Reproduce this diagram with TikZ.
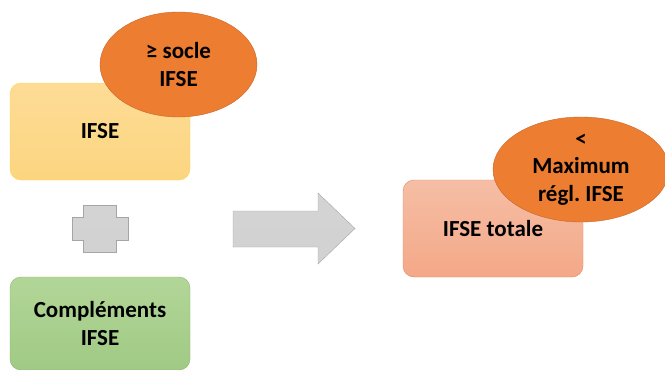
\documentclass[tikz,border=0pt]{standalone}
\usepackage{fontspec}
\setmainfont{Carlito}
\usetikzlibrary{shapes.geometric}
\definecolor{bulle}{RGB}{237,125,49}
\definecolor{bullebord}{RGB}{200,100,40}
\definecolor{grisfond}{RGB}{200,200,200}
\definecolor{grisbord}{RGB}{165,165,165}
\begin{document}
\begin{tikzpicture}[
                  x=1pt, y=-1pt,
                  font=\bfseries\fontsize{23}{27.5}\selectfont,
                  bloc/.style={rounded corners=11pt, minimum width=180pt, minimum height=97pt, align=center, inner sep=0pt},
                  bulle/.style={ellipse, draw=bullebord, fill=bulle, align=center, inner sep=0pt},
                  gris/.style={draw=grisbord, top color=grisfond!80, bottom color=grisfond!105!black}
                ]
                  \useasboundingbox (0,0) rectangle (665,370);
                  \node[bloc, draw=orange!45!yellow!70, top color={rgb,255:red,253;green,220;blue,150}, bottom color={rgb,255:red,252;green,213;blue,128}] (ifse) at (100,131.5) {IFSE};
                  \node[bulle, minimum width=157pt, minimum height=105pt] (socle) at (178.5,64.5) {≥ socle\\IFSE};
                  \node[bloc, minimum height=93pt, draw={rgb,255:red,140;green,180;blue,110}, top color={rgb,255:red,178;green,214;blue,152}, bottom color={rgb,255:red,160;green,202;blue,132}] (compl) at (100,323.5) {Compléments\\IFSE};
                  \node[bloc, draw={rgb,255:red,225;green,140;blue,100}, top color={rgb,255:red,245;green,190;blue,165}, bottom color={rgb,255:red,244;green,168;blue,136}] (total) at (493,228.5) {IFSE totale};
                  \node[bulle, minimum width=176pt, minimum height=105pt] (maxi) at (581,169.5) {<\\Maximum\\régl.\ IFSE};
                  \draw[gris] (83,205) -- (116,205) -- (116,217) -- (128,217) -- (128,240) -- (116,240)
                    -- (116,252) -- (83,252) -- (83,240) -- (72,240) -- (72,217) -- (83,217) -- cycle;
                  \draw[gris] (233,211) -- (318,211) -- (318,193) -- (355,228.5) -- (318,264) -- (318,247)
                    -- (233,247) -- cycle;
                \end{tikzpicture}
\end{document}
